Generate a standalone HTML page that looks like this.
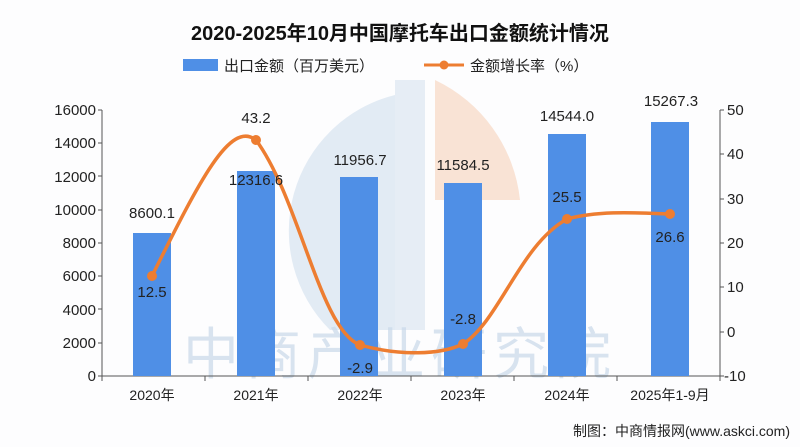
<!DOCTYPE html>
<html><head><meta charset="utf-8"><style>
body{margin:0;background:#fff;}
svg{display:block;font-family:"Liberation Sans","Noto Sans CJK SC",sans-serif;}
</style></head><body>
<svg width="800" height="447" viewBox="0 0 800 447">
<rect width="800" height="447" fill="#fdfdfe"/>
<!-- watermark -->
<path d="M395 95 A140 140 0 0 0 330 330 L395 330 Z" fill="#dbe6f1" opacity="0.8"/>
<rect x="395" y="80" width="30" height="250" fill="#dbe6f1" opacity="0.7"/>
<path d="M435 80 A150 150 0 0 1 520 200 L435 200 Z" fill="#f7dccb" opacity="0.8"/>
<text x="400" y="374" font-size="56" fill="#c9d9ea" opacity="0.7" text-anchor="middle" letter-spacing="6">中商产业研究院</text>
<text x="400" y="40" font-size="20" font-weight="bold" text-anchor="middle" fill="#111">2020-2025年10月中国摩托车出口金额统计情况</text>
<rect x="183" y="59" width="35" height="12" fill="#4f8fe6"/>
<text x="224" y="71" font-size="15" fill="#222">出口金额（百万美元）</text>
<line x1="424" y1="65" x2="464" y2="65" stroke="#ed7d31" stroke-width="3"/>
<circle cx="444" cy="65" r="4.5" fill="#ed7d31"/>
<text x="470" y="71" font-size="15" fill="#222">金额增长率（%）</text>
<!-- axes -->
<g stroke="#555" stroke-width="1">
<line x1="102" y1="110" x2="102" y2="376"/>
<line x1="720" y1="110" x2="720" y2="376"/>
<line x1="102" y1="376" x2="720" y2="376"/>
</g>
<g font-size="15" fill="#222" text-anchor="end">
<text x="96" y="115">16000</text><text x="96" y="148">14000</text><text x="96" y="182">12000</text><text x="96" y="215">10000</text><text x="96" y="248">8000</text><text x="96" y="281">6000</text><text x="96" y="315">4000</text><text x="96" y="348">2000</text><text x="96" y="381">0</text>
</g>
<g stroke="#555"><path d="M98 110h4M98 143h4M98 176h4M98 210h4M98 243h4M98 276h4M98 309h4M98 343h4M98 376h4M720 110h4M720 154h4M720 199h4M720 243h4M720 287h4M720 332h4M720 376h4M102 376v5M205 376v5M308 376v5M411 376v5M514 376v5M617 376v5M720 376v5"/></g>
<g font-size="15" fill="#222">
<text x="727" y="115">50</text><text x="727" y="159">40</text><text x="727" y="204">30</text><text x="727" y="248">20</text><text x="727" y="292">10</text><text x="727" y="337">0</text><text x="724" y="381">-10</text>
</g>
<g fill="#4f8fe6">
<rect x="133" y="233" width="38" height="143"/>
<rect x="237" y="171" width="38" height="205"/>
<rect x="340" y="177" width="38" height="199"/>
<rect x="444" y="183" width="38" height="193"/>
<rect x="548" y="134" width="38" height="242"/>
<rect x="651" y="122" width="38" height="254"/>
</g>
<path d="M152 276 C200 180,230 120,256 140 C300 200,320 330,360 345 C400 356,440 355,463 344 C500 320,520 245,567 219 C600 210,640 213,670 214" fill="none" stroke="#ed7d31" stroke-width="3.5"/>
<g fill="#ed7d31"><circle cx="152" cy="276" r="5"/><circle cx="256" cy="140" r="5"/><circle cx="360" cy="345" r="5"/><circle cx="463" cy="344" r="5"/><circle cx="567" cy="219" r="5"/><circle cx="670" cy="214" r="5"/></g>
<g font-size="15" fill="#222" text-anchor="middle">
<text x="152" y="218">8600.1</text><text x="256" y="185">12316.6</text><text x="360" y="165">11956.7</text><text x="463" y="170">11584.5</text><text x="567" y="121">14544.0</text><text x="671" y="106">15267.3</text>
<text x="152" y="297">12.5</text><text x="256" y="123">43.2</text><text x="360" y="373">-2.9</text><text x="463" y="324">-2.8</text><text x="567" y="202">25.5</text><text x="670" y="242">26.6</text>
</g>
<g font-size="14" fill="#222" text-anchor="middle">
<text x="152" y="400">2020年</text><text x="256" y="400">2021年</text><text x="360" y="400">2022年</text><text x="463" y="400">2023年</text><text x="567" y="400">2024年</text><text x="670" y="400">2025年1-9月</text>
</g>
<text x="790" y="436" font-size="14" fill="#222" text-anchor="end">制图：中商情报网(www.askci.com)</text>
</svg>
</body></html>
